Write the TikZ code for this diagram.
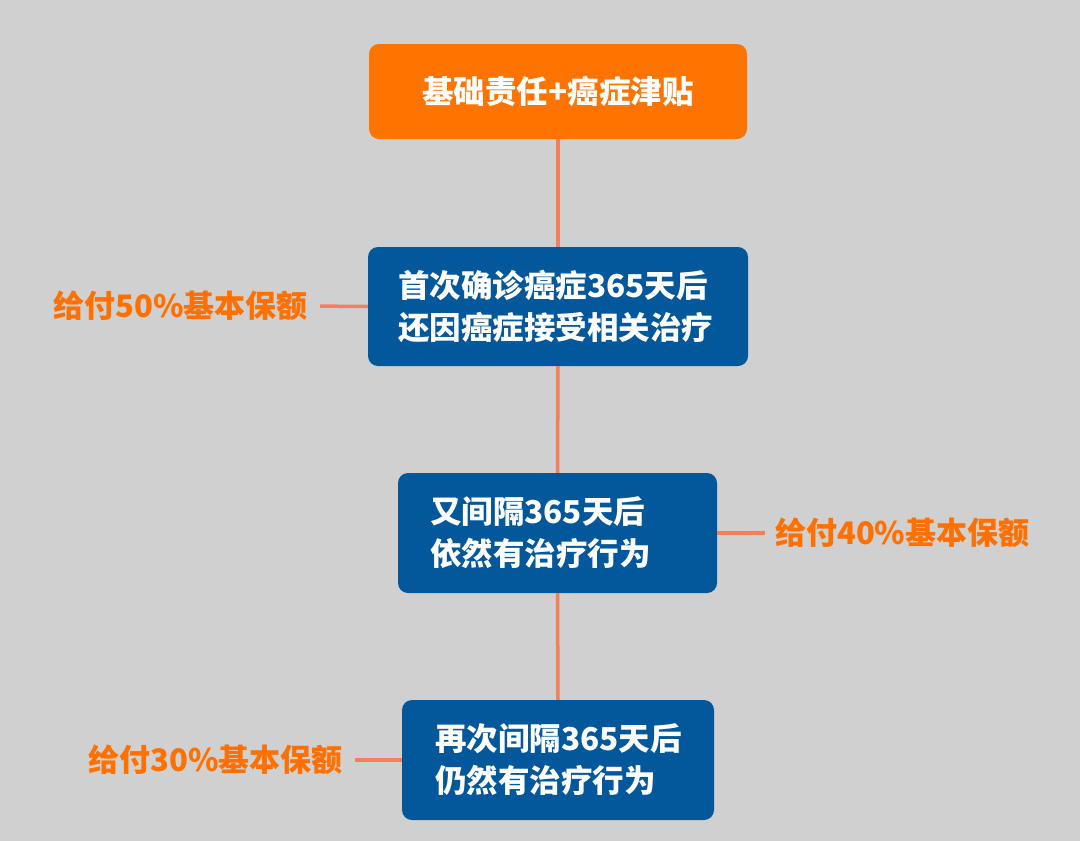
\documentclass[tikz,border=0pt]{standalone}
\usepackage{fontspec}
\setmainfont{Noto Sans CJK SC}
\definecolor{bg}{HTML}{D0D0D0}
\definecolor{orangebox}{HTML}{FF7300}
\definecolor{bluebox}{HTML}{03579B}
\definecolor{linkc}{HTML}{F47F58}
\definecolor{labelc}{HTML}{FF7000}
\tikzset{
  box/.style={rounded corners=10pt, text=white, font=\fontsize{31.5}{42}\selectfont\bfseries, inner ysep=0pt, anchor=center},
  topbox/.style={box, fill=orangebox, minimum width=378pt, minimum height=95pt, align=center},
  bluebx/.style={box, fill=bluebox, minimum height=120pt, align=left},
  lab/.style={text=labelc, font=\fontsize{31}{34}\selectfont\bfseries, inner sep=0pt},
  link/.style={draw=linkc, line width=3.5pt},
}
\begin{document}
\begin{tikzpicture}[x=1pt,y=-1pt]
\fill[bg] (0,0) rectangle (1080,841);
\node[topbox] (b1) at (558,91.5) {基础责任+癌症津贴};
\node[bluebx, text width=320pt, inner xsep=30pt, minimum height=119pt] (b2) at (558,306.5) {首次确诊癌症365天后\\还因癌症接受相关治疗};
\node[bluebx, text width=255pt, inner xsep=32pt] (b3) at (557.5,533) {又间隔365天后\\依然有治疗行为};
\node[bluebx, text width=246pt, inner xsep=33pt] (b4) at (558,760) {再次间隔365天后\\仍然有治疗行为};
\node[lab, anchor=east] (l1) at (308,306) {给付50\%基本保额};
\node[lab, anchor=west] (l2) at (775,533) {给付40\%基本保额};
\node[lab, anchor=east] (l3) at (343,760) {给付30\%基本保额};
\draw[link] (b1.south) -- (b2.north);
\draw[link] (b2.south) -- (b3.north);
\draw[link] (b3.south) -- (b4.north);
\draw[link, shorten >=12pt] (b2.west) -- (l1.east);
\draw[link, shorten >=10pt] (b3.east) -- (l2.west);
\draw[link, shorten >=12pt] (b4.west) -- (l3.east);
\end{tikzpicture}
\end{document}
